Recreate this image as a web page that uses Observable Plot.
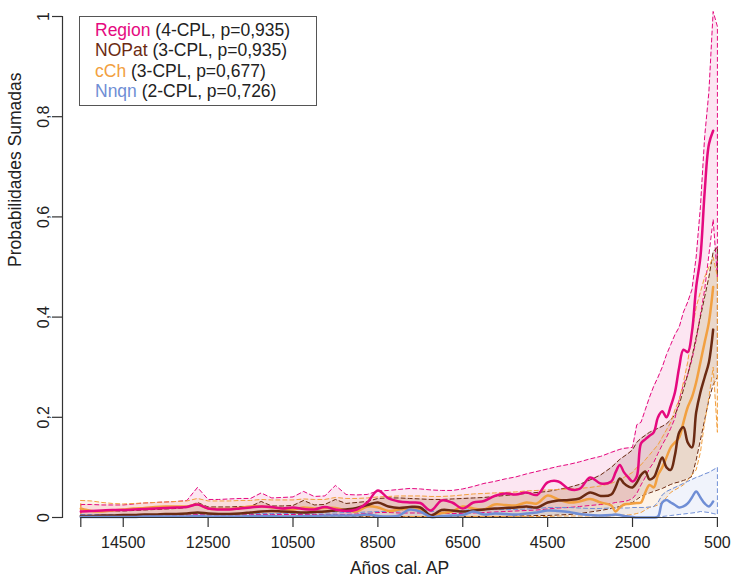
<!DOCTYPE html>
<html>
<head>
<meta charset="utf-8">
<script src="https://cdn.jsdelivr.net/npm/d3@7"></script>
<script src="https://cdn.jsdelivr.net/npm/@observablehq/plot@0.6"></script>
<style>
  body { margin: 0; background: #fff; }
  #wrap { position: relative; width: 731px; height: 579px; }
  #legend {
    position: absolute; left: 79px; top: 16px; width: 221px; height: 85px;
    border: 1px solid #555; background: #fff;
    font-family: "Liberation Sans", Arial, sans-serif; font-size: 17.5px;
    color: #222; padding: 3px 0 0 15px; box-sizing: content-box; line-height: 20.3px;
  }
  #legend div { white-space: nowrap; }
</style>
</head>
<body>
<div id="wrap"></div>
<script>
// Calibrated years BP (shared grid for every series)
const years = [
  15500, 15250, 15000, 14750, 14500, 14250, 14000, 13750, 13500, 13250,
  13000, 12750, 12500, 12250, 12000, 11750, 11500, 11250, 11000, 10750,
  10500, 10250, 10000, 9750, 9500, 9250, 9000, 8750, 8500, 8250,
  8000, 7750, 7500, 7250, 7000, 6750, 6500, 6250, 6000, 5750,
  5500, 5250, 5000, 4750, 4500, 4250, 4000, 3750, 3500, 3250,
  3000,
  2900, 2800, 2700, 2600, 2500, 2400, 2300, 2200, 2100, 2000,
  1900, 1800, 1700, 1600, 1500, 1400, 1300, 1200, 1100, 1000,
  900, 800, 700, 600, 500
];

// Region: summed probability (median) and envelope
const regionMid = [
  0.012, 0.013, 0.014, 0.015, 0.015, 0.016, 0.017, 0.018, 0.019, 0.020,
  0.021, 0.026, 0.018, 0.016, 0.016, 0.018, 0.020, 0.022, 0.021, 0.018,
  0.020, 0.017, 0.016, 0.021, 0.016, 0.013, 0.016, 0.030, 0.054, 0.038,
  0.032, 0.030, 0.029, 0.014, 0.034, 0.030, 0.018, 0.030, 0.033, 0.043,
  0.048, 0.046, 0.050, 0.045, 0.070, 0.072, 0.057, 0.057, 0.080, 0.068,
  0.072,
  0.090, 0.105, 0.090, 0.080, 0.072, 0.082, 0.148, 0.156, 0.163, 0.170,
  0.200, 0.212, 0.200, 0.222, 0.250, 0.300, 0.335, 0.330, 0.370, 0.460,
  0.520, 0.650, 0.745, 0.772, null
];
const regionHi = [
  0.026, 0.026, 0.025, 0.025, 0.025, 0.027, 0.029, 0.030, 0.031, 0.032,
  0.034, 0.060, 0.036, 0.036, 0.037, 0.038, 0.038, 0.049, 0.039, 0.040,
  0.041, 0.052, 0.042, 0.043, 0.064, 0.046, 0.045, 0.046, 0.053, 0.054,
  0.056, 0.058, 0.057, 0.055, 0.054, 0.054, 0.057, 0.062, 0.068, 0.072,
  0.077, 0.081, 0.087, 0.092, 0.097, 0.102, 0.106, 0.111, 0.117, 0.122,
  0.130,
  0.133, 0.136, 0.138, 0.139, 0.140, 0.185, 0.190, 0.215, 0.240, 0.262,
  0.280, 0.300, 0.325, 0.345, 0.365, 0.380, 0.410, 0.430, 0.455, 0.520,
  0.620, 0.760, 0.850, 1.010, 0.980
];
const regionLo = [
  0.004, 0.004, 0.004, 0.004, 0.004, 0.004, 0.004, 0.005, 0.005, 0.005,
  0.005, 0.006, 0.005, 0.005, 0.005, 0.005, 0.006, 0.006, 0.006, 0.006,
  0.006, 0.006, 0.006, 0.006, 0.006, 0.006, 0.007, 0.008, 0.010, 0.010,
  0.009, 0.009, 0.009, 0.006, 0.008, 0.008, 0.008, 0.009, 0.010, 0.011,
  0.012, 0.013, 0.014, 0.015, 0.017, 0.019, 0.020, 0.022, 0.024, 0.026,
  0.028,
  0.030, 0.031, 0.032, 0.034, 0.038, 0.048, 0.065, 0.080, 0.098, 0.110,
  0.128, 0.145, 0.160, 0.178, 0.198, 0.235, 0.265, 0.285, 0.315, 0.355,
  0.405, 0.455, 0.525, 0.595, 0.480
];

// NOPat
const nopatMid = [
  0.003, 0.003, 0.004, 0.004, 0.005, 0.005, 0.006, 0.006, 0.007, 0.007,
  0.008, 0.010, 0.008, 0.007, 0.007, 0.008, 0.010, 0.012, 0.013, 0.012,
  0.011, 0.010, 0.011, 0.012, 0.014, 0.016, 0.019, 0.025, 0.030, 0.022,
  0.019, 0.021, 0.020, 0.004, 0.015, 0.014, 0.012, 0.014, 0.016, 0.018,
  0.019, 0.020, 0.022, 0.020, 0.030, 0.034, 0.035, 0.038, 0.050, 0.043,
  0.046,
  0.060, 0.078, 0.068, 0.062, 0.060, 0.070, 0.085, 0.092, 0.076, 0.080,
  0.100, 0.120, 0.100, 0.095, 0.125, 0.170, 0.180, 0.150, 0.140, 0.210,
  0.250, 0.280, 0.310, 0.375, null
];
const nopatHi = [
  0.012, 0.012, 0.012, 0.013, 0.013, 0.014, 0.015, 0.016, 0.017, 0.018,
  0.020, 0.030, 0.021, 0.021, 0.021, 0.022, 0.022, 0.032, 0.023, 0.023,
  0.024, 0.034, 0.025, 0.026, 0.036, 0.028, 0.030, 0.032, 0.038, 0.039,
  0.039, 0.038, 0.037, 0.036, 0.036, 0.037, 0.038, 0.039, 0.040, 0.042,
  0.044, 0.046, 0.048, 0.050, 0.052, 0.056, 0.060, 0.066, 0.075, 0.085,
  0.100,
  0.108, 0.116, 0.122, 0.128, 0.135, 0.150, 0.158, 0.164, 0.170, 0.174,
  0.178, 0.182, 0.187, 0.195, 0.205, 0.225, 0.255, 0.285, 0.320, 0.360,
  0.400, 0.440, 0.480, 0.530, 0.540
];
const nopatLo = [
  0.001, 0.001, 0.001, 0.001, 0.001, 0.001, 0.001, 0.001, 0.001, 0.001,
  0.001, 0.001, 0.001, 0.001, 0.001, 0.001, 0.001, 0.001, 0.001, 0.001,
  0.001, 0.001, 0.001, 0.001, 0.001, 0.001, 0.002, 0.002, 0.002, 0.002,
  0.002, 0.002, 0.002, 0.002, 0.002, 0.002, 0.002, 0.002, 0.002, 0.002,
  0.002, 0.003, 0.003, 0.004, 0.004, 0.005, 0.006, 0.008, 0.011, 0.014,
  0.018,
  0.020, 0.022, 0.025, 0.028, 0.030, 0.036, 0.042, 0.046, 0.049, 0.052,
  0.055, 0.058, 0.062, 0.066, 0.069, 0.071, 0.074, 0.077, 0.082, 0.115,
  0.155, 0.195, 0.235, 0.265, 0.280
];

// cCh
const cchMid = [
  0.018, 0.013, 0.012, 0.014, 0.016, 0.018, 0.019, 0.021, 0.022, 0.022,
  0.022, 0.026, 0.018, 0.017, 0.017, 0.019, 0.022, 0.022, 0.020, 0.018,
  0.016, 0.020, 0.018, 0.019, 0.019, 0.014, 0.012, 0.022, 0.020, 0.013,
  0.016, 0.018, 0.017, 0.003, 0.009, 0.012, 0.022, 0.018, 0.016, 0.026,
  0.025, 0.024, 0.030, 0.028, 0.044, 0.036, 0.030, 0.032, 0.037, 0.030,
  0.024,
  0.012, 0.020, 0.026, 0.027, 0.028, 0.029, 0.030, 0.050, 0.065, 0.060,
  0.085, 0.100, 0.120, 0.140, 0.150, 0.160, 0.190, 0.220, 0.240, 0.270,
  0.310, 0.350, 0.390, 0.460, null
];
const cchHi = [
  0.034, 0.033, 0.030, 0.028, 0.027, 0.028, 0.029, 0.030, 0.031, 0.032,
  0.033, 0.038, 0.033, 0.033, 0.033, 0.034, 0.034, 0.036, 0.035, 0.035,
  0.035, 0.037, 0.036, 0.036, 0.040, 0.038, 0.038, 0.039, 0.041, 0.042,
  0.043, 0.043, 0.043, 0.042, 0.042, 0.043, 0.045, 0.047, 0.048, 0.049,
  0.050, 0.051, 0.053, 0.054, 0.055, 0.056, 0.057, 0.058, 0.060, 0.063,
  0.068,
  0.072, 0.076, 0.080, 0.085, 0.090, 0.100, 0.105, 0.115, 0.125, 0.135,
  0.145, 0.160, 0.175, 0.190, 0.215, 0.235, 0.270, 0.310, 0.370, 0.420,
  0.450, 0.480, 0.500, 0.520, 0.480
];
const cchLo = [
  0.001, 0.001, 0.001, 0.001, 0.001, 0.001, 0.001, 0.001, 0.001, 0.001,
  0.001, 0.001, 0.001, 0.001, 0.001, 0.001, 0.001, 0.001, 0.001, 0.001,
  0.001, 0.001, 0.001, 0.001, 0.001, 0.001, 0.001, 0.001, 0.001, 0.001,
  0.001, 0.002, 0.002, 0.002, 0.002, 0.002, 0.002, 0.002, 0.002, 0.002,
  0.002, 0.002, 0.002, 0.002, 0.002, 0.003, 0.003, 0.003, 0.003, 0.003,
  0.003,
  0.004, 0.004, 0.005, 0.005, 0.006, 0.008, 0.010, 0.015, 0.020, 0.022,
  0.025, 0.030, 0.040, 0.050, 0.055, 0.060, 0.065, 0.075, 0.085, 0.095,
  0.130, 0.190, 0.240, 0.300, 0.170
];

// Nnqn
const nnqnMid = [
  0.001, 0.001, 0.001, 0.001, 0.001, 0.001, 0.002, 0.002, 0.002, 0.002,
  0.002, 0.003, 0.002, 0.002, 0.002, 0.002, 0.003, 0.003, 0.003, 0.002,
  0.002, 0.003, 0.003, 0.004, 0.004, 0.004, 0.004, 0.006, 0.003, 0.002,
  0.004, 0.016, 0.012, 0.001, 0.003, 0.004, 0.005, 0.012, 0.006, 0.008,
  0.007, 0.006, 0.008, 0.010, 0.014, 0.013, 0.011, 0.007, 0.005, 0.004,
  0.005,
  0.006, 0.005, 0.003, 0.002, 0.001, 0.000, 0.000, 0.000, 0.000, 0.000,
  0.002, 0.030, 0.035, 0.030, 0.025, 0.020, 0.022, 0.028, 0.040, 0.052,
  0.040, 0.028, 0.022, 0.032, null
];
const nnqnHi = [
  0.006, 0.006, 0.006, 0.006, 0.006, 0.006, 0.006, 0.006, 0.007, 0.007,
  0.007, 0.008, 0.007, 0.007, 0.007, 0.007, 0.008, 0.008, 0.008, 0.008,
  0.008, 0.008, 0.009, 0.009, 0.009, 0.010, 0.010, 0.011, 0.012, 0.012,
  0.013, 0.020, 0.018, 0.012, 0.013, 0.013, 0.014, 0.016, 0.015, 0.016,
  0.016, 0.016, 0.017, 0.018, 0.020, 0.020, 0.020, 0.019, 0.018, 0.018,
  0.019,
  0.019, 0.019, 0.019, 0.019, 0.020, 0.020, 0.020, 0.020, 0.021, 0.022,
  0.030, 0.045, 0.052, 0.056, 0.060, 0.064, 0.068, 0.072, 0.076, 0.080,
  0.083, 0.087, 0.090, 0.095, 0.100
];
const nnqnLo = [
  0, 0, 0, 0, 0, 0, 0, 0, 0, 0,
  0, 0, 0, 0, 0, 0, 0, 0, 0, 0,
  0, 0, 0, 0, 0, 0, 0, 0, 0, 0,
  0, 0, 0, 0, 0, 0, 0, 0, 0, 0,
  0, 0, 0, 0, 0, 0, 0, 0, 0, 0,
  0,
  0, 0, 0, 0, 0, 0, 0, 0, 0, 0,
  0.000, 0.002, 0.003, 0.004, 0.005, 0.006, 0.007, 0.008, 0.009, 0.010,
  0.012, 0.011, 0.010, 0.008, 0.006
];

// Axis ticks and labels
const xTicks = [15500, 14500, 12500, 10500, 8500, 6500, 4500, 2500, 500];
const xTickLabels = ["", "14500", "12500", "10500", "8500", "6500", "4500", "2500", "500"];
const yTicks = [0, 0.2, 0.4, 0.6, 0.8, 1];
const yTickLabels = ["0", "0,2", "0,4", "0,6", "0,8", "1"];

// Series names, legend notes and colours
const seriesNames = ["Region", "NOPat", "cCh", "Nnqn"];
const seriesNotes = ["(4-CPL, p=0,935)", "(3-CPL, p=0,935)", "(3-CPL, p=0,677)", "(2-CPL, p=0,726)"];
const seriesColors = ["#E5097F", "#6B2A12", "#F2A040", "#6F8ED5"];
const fillOpacities = [0.10, 0.14, 0.12, 0.10];

const seriesData = [
  [regionMid, regionLo, regionHi],
  [nopatMid, nopatLo, nopatHi],
  [cchMid, cchLo, cchHi],
  [nnqnMid, nnqnLo, nnqnHi]
];

const rowsOf = ([mid, lo, hi]) => years.map((x, i) => ({x, mid: mid[i], lo: lo[i], hi: hi[i]}));
const series = seriesData.map(rowsOf);

// Closed envelope outline: upper bound forward, lower bound back
const outline = rows => {
  const up = rows.map(d => ({x: d.x, y: d.hi}));
  const down = rows.slice().reverse().map(d => ({x: d.x, y: d.lo}));
  return [...up, ...down, up[0]];
};

const font = "'Liberation Sans', Arial, Helvetica, sans-serif";
const ink = "#222";
const axisInk = "#333";

const fills = series.map((rows, k) => Plot.areaY(rows, {
  x: "x", y1: "lo", y2: "hi", fill: seriesColors[k], fillOpacity: fillOpacities[k]
}));
const bounds = series.map((rows, k) => Plot.line(outline(rows), {
  x: "x", y: "y", stroke: seriesColors[k], strokeWidth: 1, strokeDasharray: "4,3"
}));
// Medians drawn as smooth curves, Region on top
const medianOrder = [2, 1, 3, 0];
const medians = medianOrder.map(k => Plot.lineY(series[k], {
  x: "x", y: "mid", stroke: seriesColors[k], strokeWidth: 2.5, curve: "catmull-rom"
}));

const chart = Plot.plot({
  width: 731,
  height: 579,
  marginTop: 16,
  marginBottom: 62,
  marginLeft: 62,
  marginRight: 14,
  x: {domain: [15500, 500], range: [80.3, 716.9]},
  y: {domain: [0, 1]},
  style: {fontFamily: font, background: "#fff", color: ink},
  marks: [
    ...fills,
    ...bounds,
    ...medians,
    // y axis line, ticks and rotated labels
    Plot.frame({anchor: "left", stroke: axisInk, strokeWidth: 1.2}),
    Plot.axisY(yTicks, {anchor: "left", tickSize: 10, tickFormat: () => "", label: null, stroke: axisInk, strokeWidth: 1.2}),
    Plot.text(yTicks, {
      y: d => d, frameAnchor: "left", dx: -14, rotate: -90,
      text: (d, i) => yTickLabels[i], lineAnchor: "bottom", textAnchor: "middle",
      fontSize: 16, fill: ink
    }),
    // x axis line, ticks and labels
    Plot.ruleY([0], {x1: xTicks[0], x2: xTicks[xTicks.length - 1], stroke: axisInk, strokeWidth: 1.2}),
    Plot.axisX(xTicks, {
      anchor: "bottom", tickSize: 10, tickPadding: 9, label: null,
      tickFormat: d => xTickLabels[xTicks.indexOf(d)],
      fontSize: 16, stroke: axisInk, strokeWidth: 1.2, fill: ink
    }),
    // axis titles
    Plot.text(["Años cal. AP"], {x: 7990, frameAnchor: "bottom", dy: 51, lineAnchor: "middle", fontSize: 17.5, fill: ink}),
    Plot.text(["Probabilidades Sumadas"], {frameAnchor: "left", dx: -47, rotate: -90, lineAnchor: "middle", fontSize: 17.5, fill: ink})
  ]
});

const wrap = document.getElementById("wrap");
wrap.appendChild(chart);

// Legend box inside the plotting area
const legend = document.createElement("div");
legend.id = "legend";
seriesNames.forEach((name, k) => {
  const line = document.createElement("div");
  const n = document.createElement("span");
  n.textContent = name;
  n.style.color = seriesColors[k];
  line.appendChild(n);
  line.appendChild(document.createTextNode(" " + seriesNotes[k]));
  legend.appendChild(line);
});
wrap.appendChild(legend);
</script>
</body>
</html>
